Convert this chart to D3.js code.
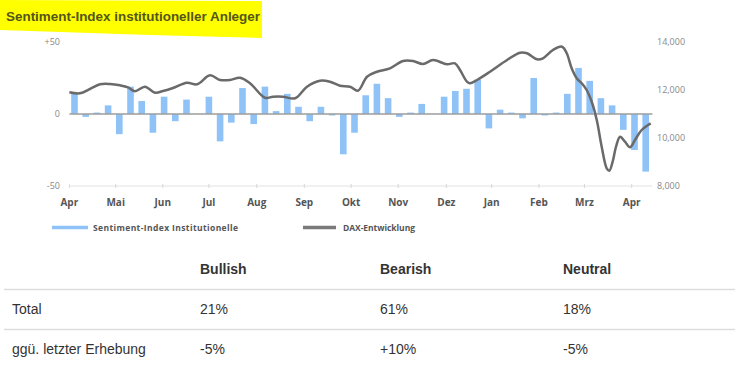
<!DOCTYPE html>
<html>
<head>
<meta charset="utf-8">
<script src="https://cdn.jsdelivr.net/npm/d3@7"></script>
<style>
  html, body { margin: 0; padding: 0; background: #fff; }
  svg { display: block; }
</style>
</head>
<body>
<svg id="chart" width="741" height="370"></svg>
<script>
// ---------- DATA ----------
const title = "Sentiment-Index institutioneller Anleger";
// weekly sentiment index (null = no survey)
const sentiment = [14, -2, 1, 6, -14, 19, 9, -13, 12, -5, 10, null, 12, -19, -6, 18,
  -7, 19, 2, 14, 5, -5, 5, -1, -28, -13, 13, 21, 11, -2, 1, 7, null, 12, 16, 17.5,
  24, -10, 3, 1, -3, 25, -1, 1, 14, 32, 23, 11, 6, -11, -25, -40];
// DAX course: position in survey-week units and value
const daxPos = [-0.46, 0.49, 1.38, 2.28, 3.17, 4.06, 4.78, 5.4, 6.29, 7.19, 7.9, 8.79, 10.04, 10.94,
  12.1, 13.0, 13.88, 14.78, 15.67, 17.0, 17.72, 18.62, 19.69, 20.76, 21.92, 22.81, 23.7, 24.6,
  25.31, 26.12, 27.01, 28.17, 29.33, 30.22, 31.12, 32.01, 33.26, 33.97, 34.42, 35.04, 35.31,
  35.94, 37.1, 38.62, 39.78, 40.4, 41.29, 41.83, 42.72, 43.53, 43.95, 44.39, 44.84, 45.29,
  45.73, 46.18, 46.63, 47.07, 47.52, 47.75, 48.05, 48.35, 48.71, 49.15, 49.6, 50.04, 50.64, 51.45];
const daxVal = [11904, 11862, 12042, 12237, 12250, 12196, 12112, 11946, 12137, 11887, 11958, 12083,
  12304, 12237, 12612, 12417, 12417, 12512, 12279, 11679, 11721, 11721, 11654, 12137, 12387,
  12346, 12179, 12137, 11971, 12554, 12762, 12904, 13208, 13208, 13083, 13250, 13071, 13112,
  12833, 12346, 12279, 12417, 12762, 13250, 13554, 13529, 13279, 13321, 13667, 13804, 13529,
  12904, 12487, 12279, 12000, 11512, 10750, 9638, 8738, 8637, 9013, 9638, 10054, 9846, 9613,
  9917, 10333, 10612];
const monthLabels = ["Apr", "Mai", "Jun", "Jul", "Aug", "Sep", "Okt", "Nov", "Dez", "Jan", "Feb", "Mrz", "Apr"];
const monthPos = [-0.46, 3.68, 7.88, 12.0, 16.27, 20.52, 24.7, 28.9, 33.2, 37.25, 41.47, 45.53, 49.75];
const leftTicks = [50, 0, -50];
const leftTickLabels = ["+50", "0", "-50"];
const rightTicks = [14000, 12000, 10000, 8000];
const legendLabels = ["Sentiment-Index Institutionelle", "DAX-Entwicklung"];
const tableHeader = ["", "Bullish", "Bearish", "Neutral"];
const tableRows = [
  ["Total", "21%", "61%", "18%"],
  ["ggü. letzter Erhebung", "-5%", "+10%", "-5%"]
];

// ---------- DRAW ----------
const svg = d3.select("#chart");
const barColor = "#8fc2f6";
const lineColor = "#6a6a6a";

// title highlight
svg.append("path")
  .attr("d", "M0,0 L262,1 L262,38 L150,35 L0,30 Z")
  .attr("fill", "#ffff00");
svg.append("text")
  .attr("x", 6).attr("y", 21)
  .attr("font-family", "Liberation Sans, Arial, sans-serif")
  .attr("font-weight", "bold").attr("font-size", 13)
  .attr("fill", "#55551a")
  .attr("textLength", 254).attr("lengthAdjust", "spacingAndGlyphs")
  .text(title);

const x = d3.scaleLinear().domain([-0.5, 51.5]).range([68.9, 651.3]);
const yL = d3.scaleLinear().domain([-50, 50]).range([186, 42]);
const yR = d3.scaleLinear().domain([8000, 14000]).range([186, 42]);

// bottom axis line + ticks
const g = svg.append("g");
g.append("line")
  .attr("x1", x(-0.46)).attr("x2", x(51.6))
  .attr("y1", yL(-50)).attr("y2", yL(-50))
  .attr("stroke", "#e2e2e2").attr("stroke-width", 1);
g.selectAll(".mtick").data(monthPos).join("line")
  .attr("x1", d => x(d)).attr("x2", d => x(d))
  .attr("y1", yL(-50) - 2).attr("y2", yL(-50) + 2)
  .attr("stroke", "#d8d8d8");
g.selectAll(".mlab").data(monthLabels).join("text")
  .attr("x", (d, i) => x(monthPos[i]))
  .attr("y", 206)
  .attr("text-anchor", "middle")
  .attr("font-family", "Open Sans, sans-serif")
  .attr("font-weight", "bold").attr("font-size", 10)
  .attr("fill", "#555")
  .text(d => d);

// left tick labels
g.selectAll(".ll").data(leftTicks).join("text")
  .attr("x", 60).attr("y", d => yL(d) + 3)
  .attr("text-anchor", "end")
  .attr("font-family", "Open Sans, sans-serif")
  .attr("font-size", 9).attr("fill", "#888")
  .text((d, i) => leftTickLabels[i]);
// right tick labels
g.selectAll(".rl").data(rightTicks).join("text")
  .attr("x", 657).attr("y", d => yR(d) + 3)
  .attr("font-family", "Open Sans, sans-serif")
  .attr("font-size", 9).attr("fill", "#888")
  .text(d => d3.format(",")(d));

// bars
const bw = 6.6;
g.selectAll(".bar").data(sentiment.map((v, i) => ({v, i})).filter(d => d.v !== null)).join("rect")
  .attr("x", d => x(d.i) - bw / 2)
  .attr("width", bw)
  .attr("y", d => yL(Math.max(0, d.v)))
  .attr("height", d => Math.abs(yL(d.v) - yL(0)))
  .attr("fill", barColor);

// zero line
g.append("line")
  .attr("x1", x(-0.46)).attr("x2", x(51.6))
  .attr("y1", yL(0)).attr("y2", yL(0))
  .attr("stroke", "#9c9c9c").attr("stroke-width", 1.5);

// DAX line
const line = d3.line()
  .x((d, i) => x(daxPos[i]))
  .y(d => yR(d))
  .curve(d3.curveCatmullRom.alpha(0.5));
g.append("path")
  .datum(daxVal)
  .attr("d", line)
  .attr("fill", "none")
  .attr("stroke", lineColor)
  .attr("stroke-width", 2.5)
  .attr("stroke-linejoin", "round");

// legend
const leg = svg.append("g");
leg.append("line").attr("x1", 52).attr("x2", 88).attr("y1", 227.5).attr("y2", 227.5)
  .attr("stroke", barColor).attr("stroke-width", 3.5);
leg.append("text").attr("x", 93).attr("y", 230.5)
  .attr("font-family", "Open Sans, sans-serif").attr("font-weight", "bold")
  .attr("font-size", 8.5).attr("fill", "#555")
  .attr("textLength", 145).attr("lengthAdjust", "spacing")
  .text(legendLabels[0]);
leg.append("line").attr("x1", 303).attr("x2", 336).attr("y1", 227.5).attr("y2", 227.5)
  .attr("stroke", "#7a7a7a").attr("stroke-width", 3.5);
leg.append("text").attr("x", 343).attr("y", 230.5)
  .attr("font-family", "Open Sans, sans-serif").attr("font-weight", "bold")
  .attr("font-size", 8.5).attr("fill", "#555")
  .attr("textLength", 72).attr("lengthAdjust", "spacing")
  .text(legendLabels[1]);

// table
const colX = [12, 200, 380, 563];
const tbl = svg.append("g")
  .attr("font-family", "Liberation Sans, Arial, sans-serif")
  .attr("font-size", 14).attr("fill", "#333");
tbl.selectAll(".th").data(tableHeader).join("text")
  .attr("x", (d, i) => colX[i]).attr("y", 274)
  .attr("font-weight", "bold")
  .text(d => d);
[289.5, 329.5].forEach(yy => {
  tbl.append("line").attr("x1", 4).attr("x2", 735).attr("y1", yy).attr("y2", yy)
    .attr("stroke", "#dddddd").attr("stroke-width", 1.5);
});
tableRows.forEach((row, r) => {
  tbl.selectAll(".tr" + r).data(row).join("text")
    .attr("x", (d, i) => colX[i]).attr("y", 314 + r * 40)
    .text(d => d);
});
</script>
</body>
</html>
